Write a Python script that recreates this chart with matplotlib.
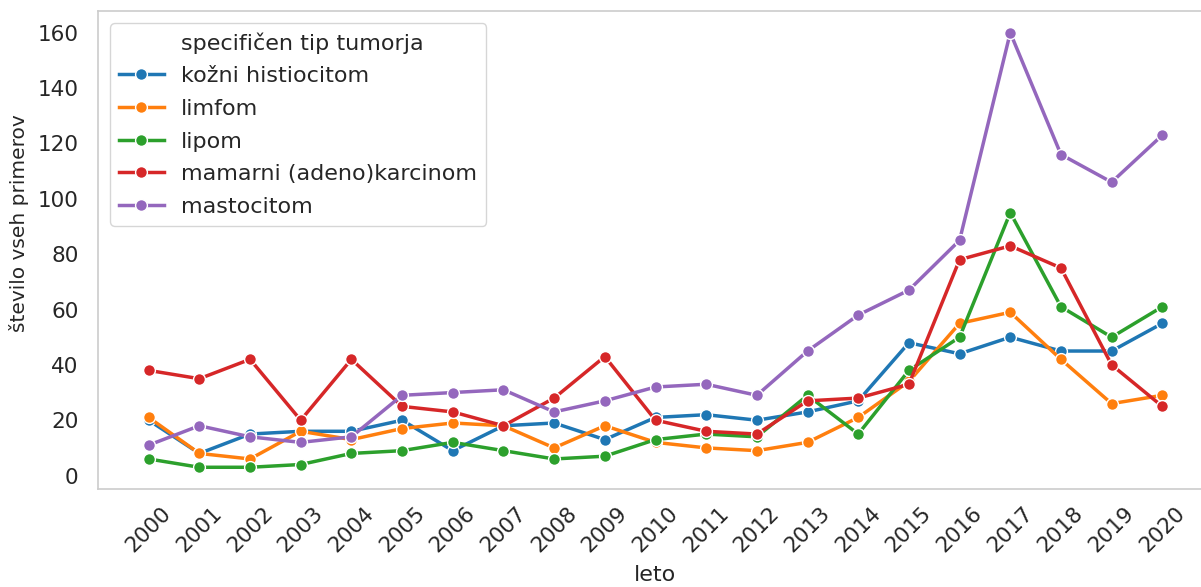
import numpy as np
import matplotlib
matplotlib.use('Agg')
import matplotlib.pyplot as plt
from matplotlib.lines import Line2D

# Podatki: stevilo primerov po letih za vsak tip tumorja
leta = list(range(2000, 2021))
tipi = ['kožni histiocitom', 'limfom', 'lipom', 'mamarni (adeno)karcinom', 'mastocitom']
kozni_histiocitom = [20, 8, 15, 16, 16, 20, 9, 18, 19, 13, 21, 22, 20, 23, 27, 48, 44, 50, 45, 45, 55]
limfom = [21, 8, 6, 16, 13, 17, 19, 18, 10, 18, 12, 10, 9, 12, 21, 34, 55, 59, 42, 26, 29]
lipom = [6, 3, 3, 4, 8, 9, 12, 9, 6, 7, 13, 15, 14, 29, 15, 38, 50, 95, 61, 50, 61]
mamarni_karcinom = [38, 35, 42, 20, 42, 25, 23, 18, 28, 43, 20, 16, 15, 27, 28, 33, 78, 83, 75, 40, 25]
mastocitom = [11, 18, 14, 12, 14, 29, 30, 31, 23, 27, 32, 33, 29, 45, 58, 67, 85, 160, 116, 106, 123]
barve = ['#1f77b4', '#ff7f0e', '#2ca02c', '#d62728', '#9467bd']

plt.rcParams['font.family'] = 'DejaVu Sans'
plt.rcParams['text.color'] = '#262626'
plt.rcParams['axes.labelcolor'] = '#262626'
plt.rcParams['xtick.color'] = '#262626'
plt.rcParams['ytick.color'] = '#262626'

fig = plt.figure(figsize=(12.01, 5.87), dpi=100)
ax = fig.add_axes([98 / 1201, 1 - 489 / 587, (1213 - 98) / 1201, (489 - 11) / 587])

serije = [kozni_histiocitom, limfom, lipom, mamarni_karcinom, mastocitom]
for ime, vrednosti, barva in zip(tipi, serije, barve):
    ax.plot(leta, vrednosti, color=barva, linewidth=2.5, marker='o', markersize=8.5,
            markeredgecolor='white', markeredgewidth=1, label=ime)

for s in ax.spines.values():
    s.set_color('#cccccc')
    s.set_linewidth(1.2)
ax.spines['right'].set_visible(False)

ax.set_xticks(leta)
ax.set_xticklabels([str(l) for l in leta], rotation=45)
ax.tick_params(axis='both', labelsize=15.5, length=0)
ax.tick_params(axis='y', pad=14)
ax.tick_params(axis='x', pad=10)
ax.set_xlabel('leto', fontsize=16, labelpad=7)
ax.set_ylabel('število vseh primerov', fontsize=14.5)
ax.yaxis.set_label_coords(-0.062, 0.556)

# Legenda z naslovom kot prvim vnosom (brez simbola)
rocaji, oznake = ax.get_legend_handles_labels()
prazen = Line2D([], [], linestyle='none', marker=None)
leg = ax.legend([prazen] + rocaji, ['specifičen tip tumorja'] + oznake,
                loc='upper left', fontsize=16, frameon=True, borderaxespad=0.55,
                labelspacing=0.57)
leg.get_frame().set_edgecolor('#cccccc')

fig.savefig('out.png', dpi=100)
plt.close()
